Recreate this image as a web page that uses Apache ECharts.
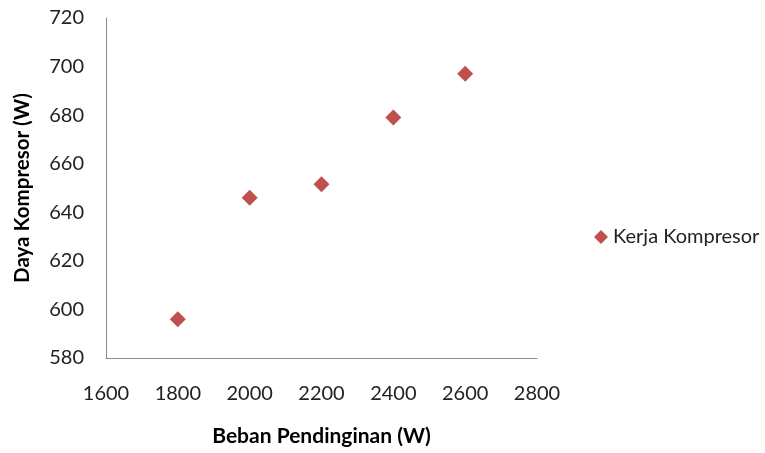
<!DOCTYPE html>
<html><head><meta charset="utf-8">
<script src="https://cdn.jsdelivr.net/npm/echarts@6/dist/echarts.min.js"></script>
<style>html,body{margin:0;padding:0;background:#fff}#c{width:765px;height:453px}</style>
</head><body><div id="c"></div>
<script>
const xValues = [1800, 2000, 2200, 2400, 2600];
const yValues = [596, 646, 651.5, 679, 697];
const seriesName = 'Kerja Kompresor';
const xTitle = 'Beban Pendinginan (W)';
const yTitle = 'Daya Kompresor (W)';

const chart = echarts.init(document.getElementById('c'));
const font = 'Lato, "Open Sans", sans-serif';
chart.setOption({
  animation: false,
  grid: {left: 106, top: 18, width: 431, height: 340, containLabel: false, outerBoundsMode: 'none'},
  xAxis: {
    type: 'value', min: 1600, max: 2800, interval: 200,
    name: xTitle, nameLocation: 'middle', nameGap: 68,
    nameTextStyle: {fontFamily: font, fontSize: 21, fontWeight: 'bold', color: '#000'},
    axisLine: {show: true, lineStyle: {color: '#8c8c8c', width: 1}},
    axisTick: {show: false},
    splitLine: {show: false},
    axisLabel: {fontFamily: font, fontSize: 20, color: '#222', margin: 26, formatter: v => String(v)}
  },
  yAxis: {
    type: 'value', min: 580, max: 720, interval: 20,
    name: yTitle, nameLocation: 'middle', nameGap: 73,
    nameTextStyle: {fontFamily: font, fontSize: 20.5, fontWeight: 'bold', color: '#000'},
    axisLine: {show: true, lineStyle: {color: '#8c8c8c', width: 1}},
    axisTick: {show: false},
    splitLine: {show: false},
    axisLabel: {fontFamily: font, fontSize: 20, color: '#222', margin: 22, formatter: v => String(v)}
  },
  legend: {
    left: 589, top: 222, orient: 'vertical',
    itemWidth: 14, itemHeight: 14, itemGap: 5,
    icon: 'diamond',
    textStyle: {fontFamily: font, fontSize: 20, color: '#222'},
    data: [seriesName]
  },
  series: [{
    name: seriesName, type: 'scatter', symbol: 'diamond', symbolSize: 16,
    itemStyle: {color: '#C0504D', opacity: 1},
    data: xValues.map((x, i) => [x, yValues[i]])
  }]
});
</script></body></html>
